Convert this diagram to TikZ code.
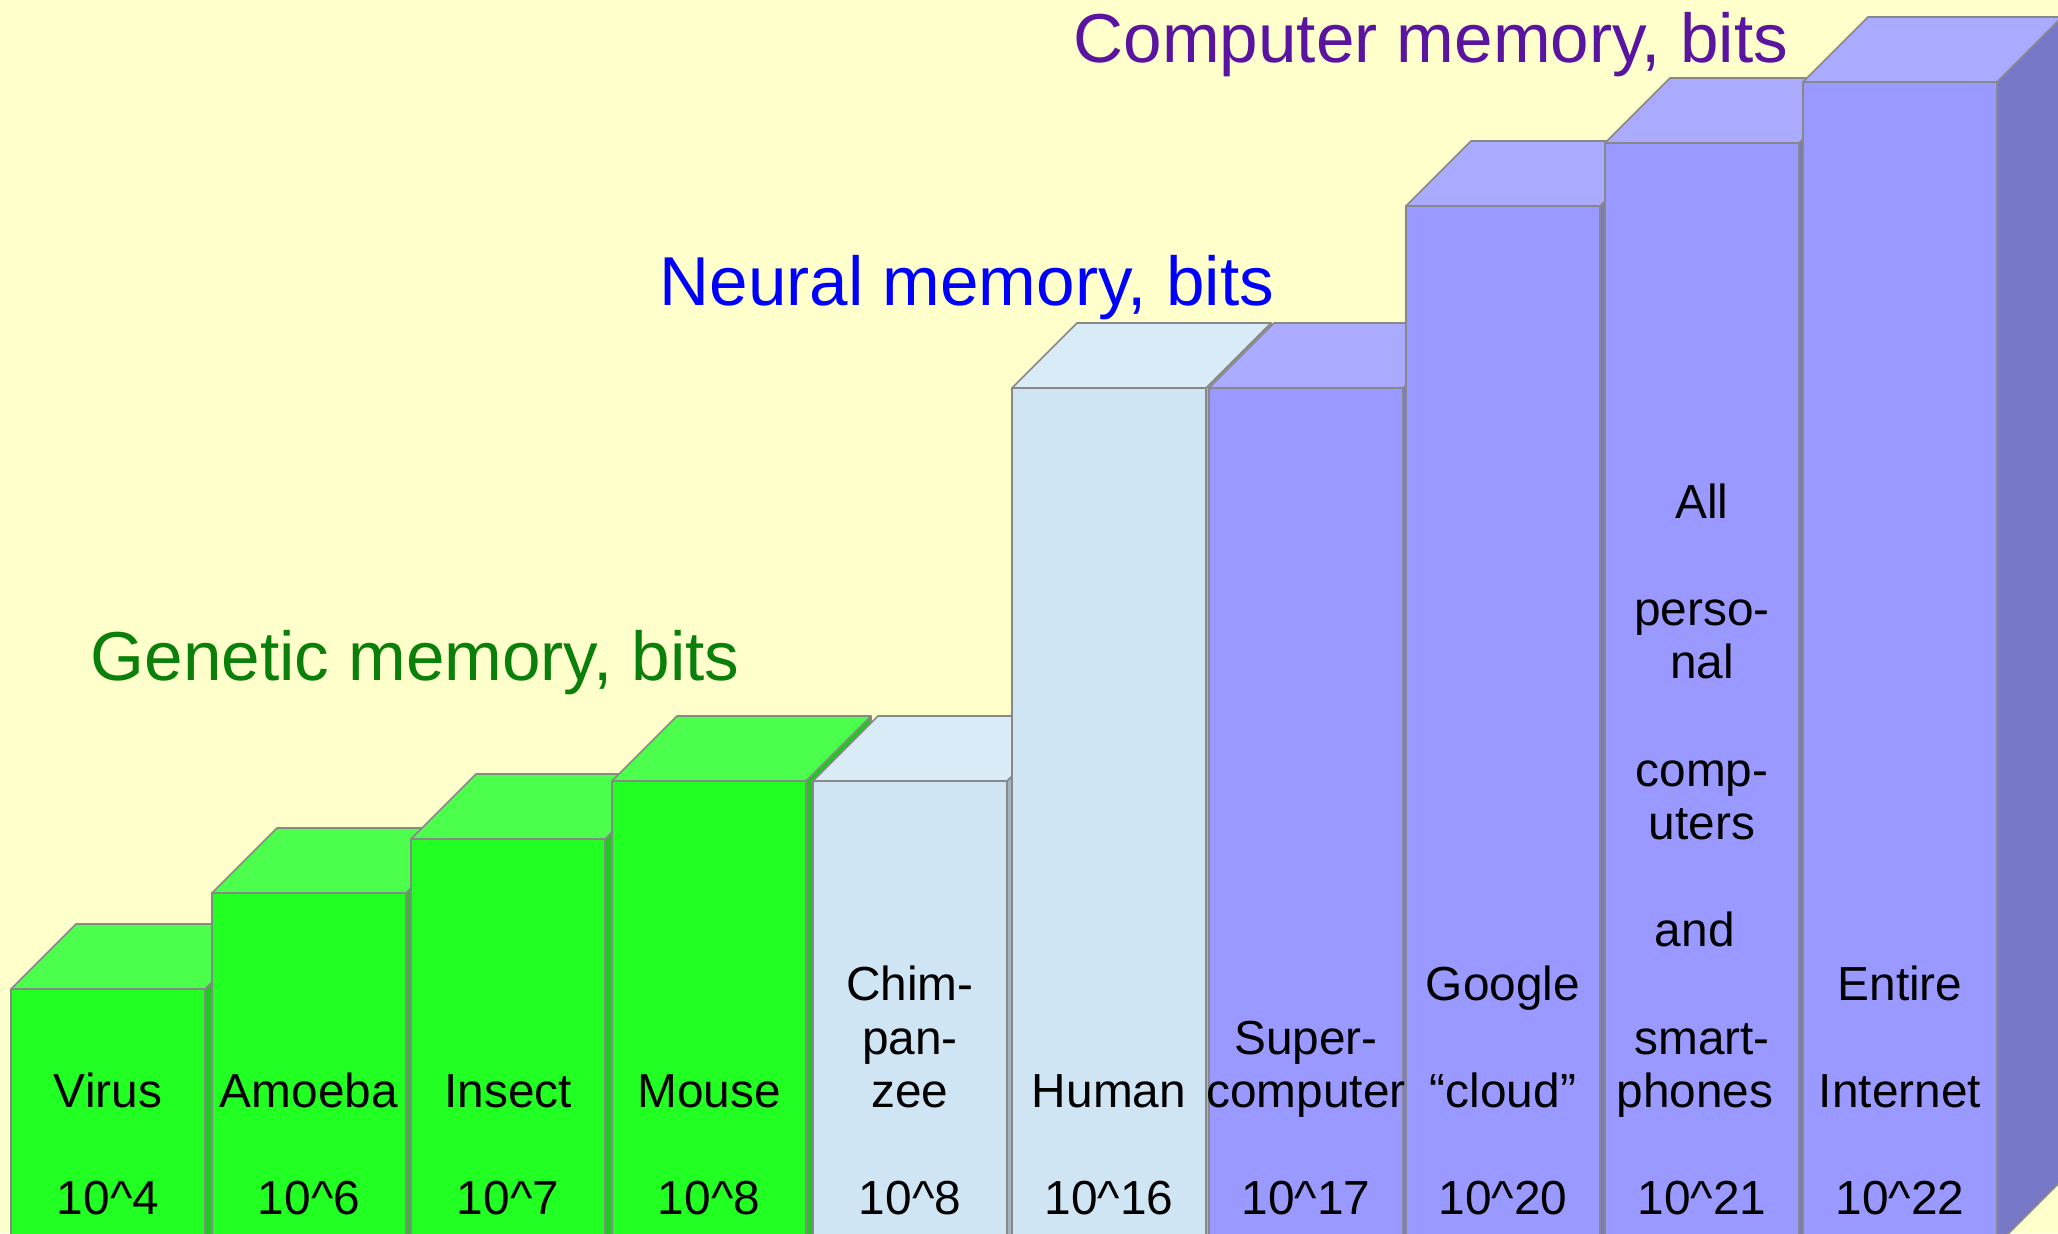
\documentclass[tikz,border=0pt]{standalone}
\usepackage{fontspec}
\setmainfont{Liberation Sans}

\definecolor{paper}{HTML}{FFFFCC}
\definecolor{gfront}{HTML}{22FF22}
\definecolor{gtop}{HTML}{4DFF4D}
\definecolor{gside}{HTML}{1EC81E}
\definecolor{bfront}{HTML}{CFE5F3}
\definecolor{btop}{HTML}{D8EBF6}
\definecolor{bside}{HTML}{A3B5C0}
\definecolor{pfront}{HTML}{9999FF}
\definecolor{ptop}{HTML}{AAAAFF}
\definecolor{pside}{HTML}{7878C8}
\definecolor{edge}{HTML}{888888}
\definecolor{genetic}{HTML}{0A800A}
\definecolor{neural}{HTML}{0000FF}
\definecolor{computer}{HTML}{5A14A0}

\begin{document}
\begin{tikzpicture}[x=0.1mm, y=-0.1mm,
  face/.style={draw=edge, line width=0.45pt, line join=round},
  barlabel/.style={font=\fontsize{13.6pt}{15.25pt}\selectfont, align=center, anchor=south, inner sep=0pt},
  heading/.style={font=\fontsize{19.7pt}{23pt}\selectfont, anchor=base west, inner sep=0pt}]
\clip (0,0) rectangle (2058,1233);
\fill[paper] (0,0) rectangle (2058,1233);

\def\w{194}
\def\d{65}
\def\bot{1245}

% bars, left to right, each one hides part of the one before
\foreach \i/\l/\t/\c/\txt in {
  1/11/989/g/{Virus\\[15.25pt]10\textasciicircum 4},
  2/212/893/g/{Amoeba\\[15.25pt]10\textasciicircum 6},
  3/411/839/g/{Insect\\[15.25pt]10\textasciicircum 7},
  4/612/781/g/{Mouse\\[15.25pt]10\textasciicircum 8},
  5/813/781/b/{Chim-\\pan-\\zee\\[15.25pt]10\textasciicircum 8},
  6/1012/388/b/{Human\\[15.25pt]10\textasciicircum 16},
  7/1209/388/p/{Super-\\computer\\[15.25pt]10\textasciicircum 17},
  8/1406/206/p/{Google\\[15.25pt]“cloud”\\[15.25pt]10\textasciicircum 20},
  9/1605/143/p/{All\\[15.25pt]perso-\\nal\\[15.25pt]comp-\\uters\\[15.25pt]and\rule{0.3em}{0pt}\\[15.25pt]smart-\\phones\rule{0.3em}{0pt}\\[15.25pt]10\textasciicircum 21},
  10/1803/82/p/{Entire\\[15.25pt]Internet\\[15.25pt]10\textasciicircum 22}} {
\draw[face, fill=\c side] (\l+\w,\t) -- (\l+\w+\d,\t-\d) -- (\l+\w+\d,\bot-\d) -- (\l+\w,\bot) -- cycle;
\draw[face, fill=\c top] (\l,\t) -- (\l+\d,\t-\d) -- (\l+\w+\d,\t-\d) -- (\l+\w,\t) -- cycle;
\draw[face, fill=\c front] (\l,\t) rectangle (\l+\w,\bot);
\node[barlabel] (lab\i) at (\l+97,1216) {\txt};
}

\node[heading, text=genetic] (genetic) at (90,680) {Genetic memory, bits};
\node[heading, text=neural] (neural) at (659,305) {Neural memory, bits};
\node[heading, text=computer] (computer) at (1073,62) {Computer memory, bits};

\end{tikzpicture}
\end{document}
